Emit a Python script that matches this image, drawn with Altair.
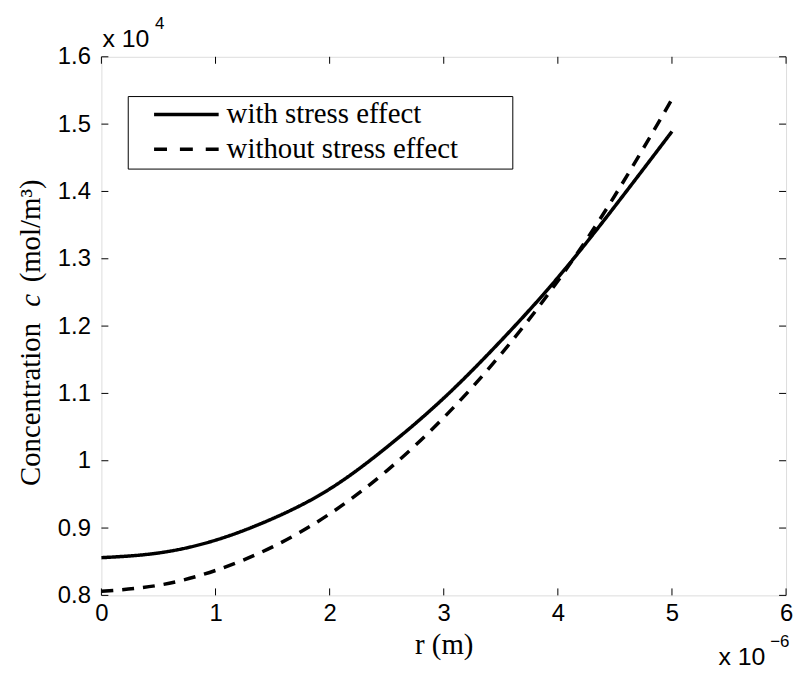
import altair as alt
import pandas as pd

# r in units of 1e-6 m, concentration in units of 1e4 mol/m^3
r_vals = [0.0, 0.5, 1.0, 1.5, 2.0, 2.5, 3.0, 3.5, 4.0, 4.5, 5.0]
with_stress = [0.856, 0.863, 0.882, 0.914, 0.958, 1.020, 1.093, 1.178, 1.272, 1.378, 1.489]
without_stress = [0.806, 0.815, 0.837, 0.872, 0.921, 0.985, 1.064, 1.158, 1.267, 1.394, 1.537]
series_names = ["with stress effect", "without stress effect"]

x_ticks = [0, 1, 2, 3, 4, 5, 6]
y_ticks = [0.8, 0.9, 1.0, 1.1, 1.2, 1.3, 1.4, 1.5, 1.6]

W, H = 689, 542
SANS = "Liberation Sans"
SERIF = "Liberation Serif"

rows = []
for r, a, b in zip(r_vals, with_stress, without_stress):
    rows.append({"r": r, "c": a, "s": series_names[0]})
    rows.append({"r": r, "c": b, "s": series_names[1]})
df = pd.DataFrame(rows)

xs = alt.Scale(domain=[0, 6], nice=False)
ys = alt.Scale(domain=[0.8, 1.6], nice=False, zero=False)

lines = alt.Chart(df).mark_line(strokeWidth=3.5, color="black", interpolate="natural").encode(
    x=alt.X("r:Q", scale=xs, axis=alt.Axis(
        values=x_ticks, title="r (m)", format="d", grid=False, domain=False, ticks=False,
        labelFont=SANS, labelFontSize=24, labelColor="black", labelPadding=6, labelFlush=False,
        titleFont=SERIF, titleFontSize=29, titleFontWeight="normal", titleColor="black",
        titleBaseline="alphabetic", titleY=58)),
    y=alt.Y("c:Q", scale=ys, axis=alt.Axis(
        values=y_ticks, title=None, format=".1~f", grid=False, domain=False, ticks=False,
        labelFont=SANS, labelFontSize=24, labelColor="black", labelPadding=11, labelFlush=False)),
    strokeDash=alt.StrokeDash("s:N", scale=alt.Scale(domain=series_names, range=[[1, 0], [12, 9]]), legend=None),
    detail="s:N",
)

xt = pd.DataFrame({"v": x_ticks})
yt = pd.DataFrame({"v": y_ticks})
tick_b = alt.Chart(xt).mark_rule(color="black", strokeWidth=1).encode(x=alt.X("v:Q", scale=xs), y=alt.value(H), y2=alt.value(H - 7))
tick_t = alt.Chart(xt).mark_rule(color="black", strokeWidth=1).encode(x=alt.X("v:Q", scale=xs), y=alt.value(0), y2=alt.value(7))
tick_l = alt.Chart(yt).mark_rule(color="black", strokeWidth=1).encode(y=alt.Y("v:Q", scale=ys), x=alt.value(0), x2=alt.value(7))
tick_r = alt.Chart(yt).mark_rule(color="black", strokeWidth=1).encode(y=alt.Y("v:Q", scale=ys), x=alt.value(W), x2=alt.value(W - 7))

one = pd.DataFrame({"t": [""]})
leg_box = alt.Chart(one).mark_rect(fill="white", stroke="black", strokeWidth=1).encode(
    x=alt.value(27), x2=alt.value(414), y=alt.value(40), y2=alt.value(113))
leg_l1 = alt.Chart(one).mark_rule(color="black", strokeWidth=3.5).encode(
    x=alt.value(53), x2=alt.value(118), y=alt.value(58))
leg_l2 = alt.Chart(one).mark_rule(color="black", strokeWidth=3.5, strokeDash=[13, 13]).encode(
    x=alt.value(53), x2=alt.value(118), y=alt.value(93))
leg_t = alt.Chart(pd.DataFrame({"t": series_names, "yy": [58, 93]})).mark_text(
    font=SERIF, fontSize=29, align="left", baseline="middle", color="black").encode(
    text="t:N", x=alt.value(126), y=alt.Y("yy:Q", scale=None))

def txt(s, x, y, **kw):
    return alt.Chart(pd.DataFrame({"t": [s]})).mark_text(color="black", **kw).encode(
        text="t:N", x=alt.value(x), y=alt.value(y))

mult_tl = txt("x 10", 1, -10, font=SANS, fontSize=25, align="left", baseline="alphabetic")
mult_tl_e = txt("4", 54, -28, font=SANS, fontSize=17, align="left", baseline="alphabetic")
mult_br = txt("x 10", 621, 612, font=SANS, fontSize=25, align="left", baseline="alphabetic")
mult_br_e = txt("\u22126", 673, 594, font=SANS, fontSize=17, align="left", baseline="alphabetic")

yt1 = txt("Concentration", -62, 432, font=SERIF, fontSize=29, align="left", baseline="alphabetic", angle=270)
yt2 = txt("c", -62, 245, font=SERIF, fontSize=29, fontStyle="italic", align="center", baseline="alphabetic", angle=270)
yt3 = txt("(mol/m\u00b3)", -62, 227, font=SERIF, fontSize=29, align="left", baseline="alphabetic", angle=270)

chart = alt.layer(
    lines, tick_b, tick_t, tick_l, tick_r,
    leg_box, leg_l1, leg_l2, leg_t,
    mult_tl, mult_tl_e, mult_br, mult_br_e, yt1, yt2, yt3,
).properties(
    width=W, height=H,
    autosize=alt.AutoSizeParams(type="none"),
    padding={"left": 94, "top": 47, "right": 10, "bottom": 76},
).configure_view(stroke="black", strokeWidth=1).configure(background="white")

chart.save("out.html", embed_options={"renderer": "svg", "actions": False})
